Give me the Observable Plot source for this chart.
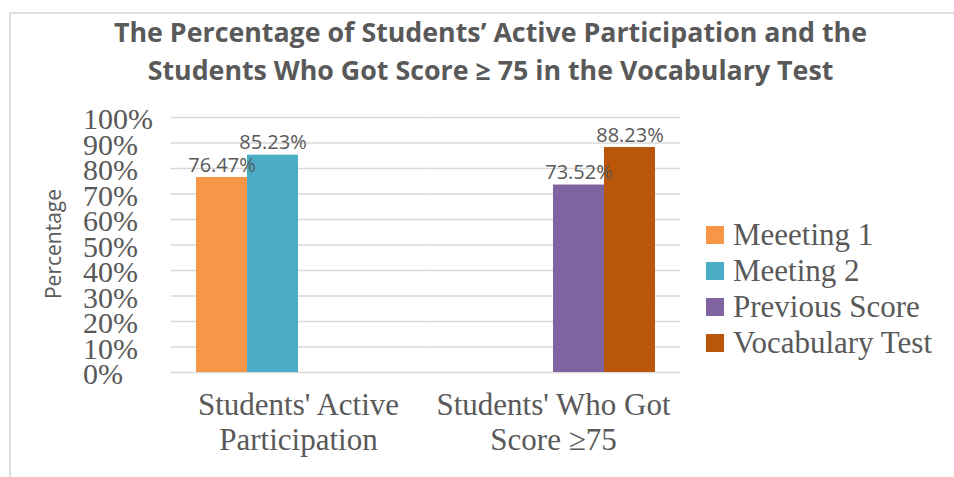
<!DOCTYPE html>
<html><head><meta charset="utf-8">
<script src="https://cdn.jsdelivr.net/npm/d3@7"></script>
<script src="https://cdn.jsdelivr.net/npm/@observablehq/plot@0.6"></script>
<style>
html,body{margin:0;padding:0;background:#fff;overflow:hidden}
#wrap{position:relative;width:954px;height:477px;overflow:hidden;background:#fff}
#title{position:absolute;top:13px;left:100px;white-space:nowrap;text-align:center;font-family:"Open Sans",sans-serif;font-weight:700;font-size:26px;line-height:38px;color:#595959;transform-origin:0 0}
#chart{position:absolute;left:0;top:96px}
#legend{position:absolute;left:706px;top:217px}
#legend > div{font-family:"Liberation Serif",serif;font-size:31px;color:#595959;line-height:35px;margin:0}
#legend svg{margin-right:9px}
#frame{position:absolute;left:9px;top:12px;width:1000px;height:1000px;border-left:2px solid #dedede;border-top:2px solid #dedede;pointer-events:none}
</style></head>
<body>
<div id="wrap">
  <div id="title"><span id="t1">The Percentage of Students’ Active Participation and the</span><br><span id="t2">Students Who Got Score ≥ 75 in the Vocabulary Test</span></div>
  <div id="chart"></div>
  <div id="legend"></div>
  <div id="frame"></div>
</div>
<script>
const categories = ["Students' Active\nParticipation", "Students' Who Got\nScore ≥75"];
const series = ["Meeeting 1", "Meeting 2", "Previous Score", "Vocabulary Test"];
const seriesCategory = [0, 0, 1, 1];
const values = [76.47, 85.23, 73.52, 88.23];
const colors = ["#F79646", "#4BACC6", "#8064A2", "#B9560A"];
const yTicks = [0, 10, 20, 30, 40, 50, 60, 70, 80, 90, 100];
const yLabel = "Percentage";

const rows = series.map((s, i) => ({series: s, category: categories[seriesCategory[i]], value: values[i]}));

const chart = Plot.plot({
  width: 954,
  height: 381,
  marginLeft: 170,
  marginRight: 274,
  marginTop: 21,
  marginBottom: 105,
  style: {background: "transparent"},
  fx: {domain: categories, paddingInner: 0.2, paddingOuter: 0.1, label: null},
  x: {domain: series, padding: 0, axis: null},
  y: {domain: [0, 100], axis: null},
  color: {domain: series, range: colors},
  marks: [
    Plot.ruleY(yTicks, {y: d => d, stroke: "#d9d9d9", strokeWidth: 1.3, insetLeft: -25.5, insetRight: -25.5}),
    Plot.axisY(yTicks, {tickSize: 0, tickPadding: 113.5, textAnchor: "start", tickFormat: d => d + "%", fontSize: 30, fontFamily: "Liberation Serif", color: "#595959", dy: 2, label: null}),
    Plot.axisFx({anchor: "bottom", tickSize: 0, tickPadding: 18, fontSize: 31, fontFamily: "Liberation Serif", lineHeight: 35 / 31, color: "#595959", label: null}),
    Plot.barY(rows, {fx: "category", x: "series", y: "value", fill: "series"}),
    Plot.text(rows, {fx: "category", x: "series", y: "value", text: d => d.value.toFixed(2) + "%", lineAnchor: "bottom", dy: -6, fontSize: 20, fontFamily: "Open Sans", fill: "#595959"}),
    Plot.text([yLabel], {facet: "super", frameAnchor: "left", textAnchor: "middle", dx: -142.5, dy: -1, rotate: -90, fontSize: 21, fontFamily: "Open Sans", fill: "#595959"})
  ]
});
document.getElementById("chart").appendChild(chart);
document.getElementById("legend").appendChild(chart.legend("color", {columns: 1, swatchSize: 18}));

const title = document.getElementById("title");
const w1 = document.getElementById("t1").getBoundingClientRect().width;
const tw = title.getBoundingClientRect().width;
const s = 753 / w1;
title.style.transform = `scaleX(${s})`;
title.style.left = (490 - tw * s / 2) + "px";
</script>
</body></html>
